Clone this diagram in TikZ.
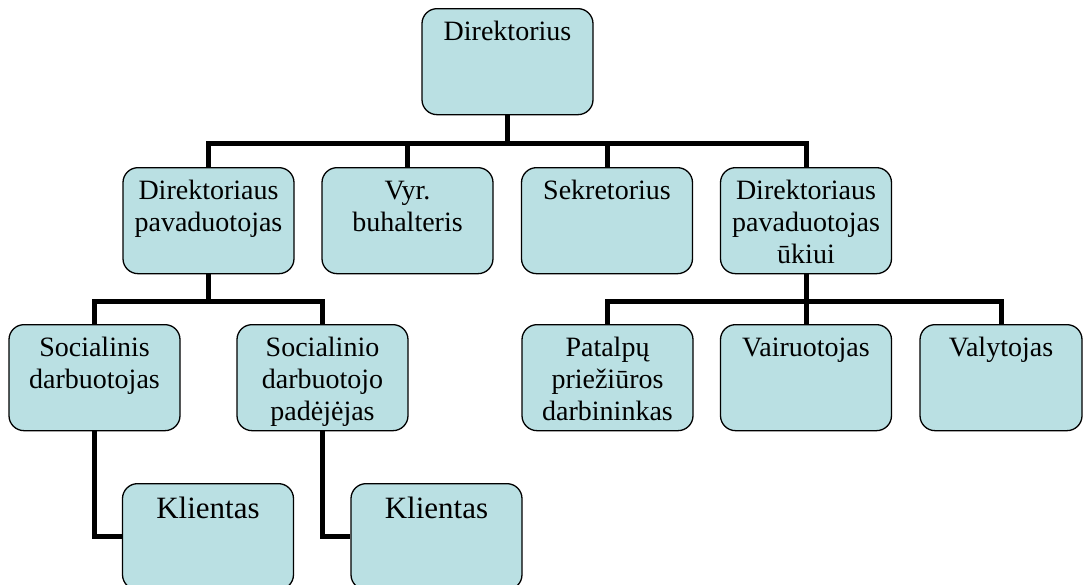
\documentclass[tikz,border=0pt]{standalone}
\usepackage{fontspec}
\setmainfont{Liberation Serif}
\definecolor{boxfill}{RGB}{186,224,227}
\newcommand{\orgtext}[3][9.6pt]{\parbox[c][106pt][t]{#2}{\centering\vspace*{#1}\strut #3}}
\begin{document}
\begin{tikzpicture}[x=1pt,y=-1pt,
  orgbox/.style={draw=black, line width=1.3pt, fill=boxfill, rounded corners=15pt,
    inner sep=0pt, minimum width=171pt, minimum height=106pt, anchor=north,
    font=\fontsize{28}{32}\selectfont},
  bigbox/.style={orgbox, font=\fontsize{31}{35}\selectfont},
  conn/.style={draw=black, line width=5pt, line join=miter}]
\useasboundingbox (0,0) rectangle (1084,584);
\clip (0,0) rectangle (1084,584);
% nodes
\node[orgbox] (dir) at (507.5,8)   {\orgtext{171pt}{Direktorius}};
\node[orgbox] (dp)  at (208.5,167) {\orgtext{171pt}{Direktoriaus\\\strut pavaduotojas}};
\node[orgbox] (vyr) at (407.5,167) {\orgtext{171pt}{Vyr.\\\strut buhalteris}};
\node[orgbox] (sek) at (607,167)   {\orgtext{171pt}{Sekretorius}};
\node[orgbox] (dpu) at (806,167)   {\orgtext{171pt}{Direktoriaus\\\strut pavaduotojas\\\strut ūkiui}};
\node[orgbox] (sd)  at (94.5,324)  {\orgtext{171pt}{Socialinis\\\strut darbuotojas}};
\node[orgbox] (sdp) at (322.5,324) {\orgtext{171pt}{Socialinio\\\strut darbuotojo\\\strut padėjėjas}};
\node[orgbox] (pat) at (607.5,324) {\orgtext{171pt}{Patalpų\\\strut priežiūros\\\strut darbininkas}};
\node[orgbox] (vai) at (806,324)   {\orgtext{171pt}{Vairuotojas}};
\node[orgbox, minimum width=162pt] (val) at (1001,324) {\orgtext{162pt}{Valytojas}};
\node[bigbox] (kl1) at (208,483)   {\orgtext[10.5pt]{171pt}{Klientas}};
\node[bigbox] (kl2) at (436.5,483) {\orgtext[10.5pt]{171pt}{Klientas}};
% connectors
\draw[conn] (dir.south) -- ++(0,29);
\draw[conn] (dp.north) -- ++(0,-24) -| (dpu.north);
\draw[conn] (vyr.north) -- ++(0,-24);
\draw[conn] (sek.north) -- ++(0,-24);
\draw[conn] (dp.south) -- ++(0,28);
\draw[conn] (sd.north) -- ++(0,-23) -| (sdp.north);
\draw[conn] (dpu.south) -- ++(0,28);
\draw[conn] (pat.north) -- ++(0,-23) -| (val.north);
\draw[conn] (vai.north) -- ++(0,-23);
\draw[conn] (sd.south) |- (kl1.west);
\draw[conn] (sdp.south) |- (kl2.west);
\end{tikzpicture}
\end{document}
